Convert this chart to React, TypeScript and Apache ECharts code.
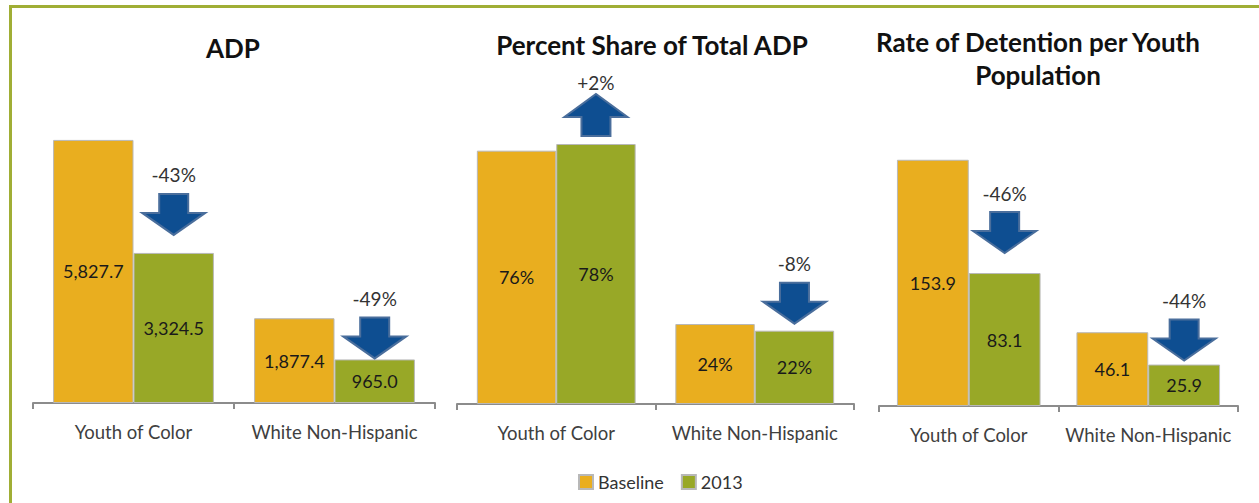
import React, { useEffect, useRef } from "react";
import * as echarts from "echarts";

const categories = ["Youth of Color", "White Non-Hispanic"];
const adpBaseline = [5827.7, 1877.4];
const adp2013 = [3324.5, 965.0];
const shareBaseline = [76, 24];
const share2013 = [78, 22];
const rateBaseline = [153.9, 46.1];
const rate2013 = [83.1, 25.9];
const adpChange = ["-43%", "-49%"];
const shareChange = ["+2%", "-8%"];
const rateChange = ["-46%", "-44%"];
const panelTitles = ["ADP", "Percent Share of Total ADP", "Rate of Detention per Youth\nPopulation"];
const seriesNames = ["Baseline", "2013"];

// layout/style config (px gaps between bar top and arrow)
const arrowGaps = [[18, 1], [8, 7], [20, 4]];

const FONT = "Lato, 'Open Sans', sans-serif";
const GOLD = "#E9AE1F";
const GREEN = "#98A827";
const ARROW_FILL = "#0E4E91";
const ARROW_STROKE = "#4A6E9C";

const fmtAdp = (v: number) =>
  v.toLocaleString("en-US", { minimumFractionDigits: 1, maximumFractionDigits: 1 });
const fmtShare = (v: number) => v + "%";
const fmtRate = (v: number) => v.toFixed(1);

export default function App() {
  const ref = useRef<HTMLDivElement>(null);
  useEffect(() => {
    if (!ref.current) return;
    const chart = echarts.init(ref.current, null, { renderer: "svg" });

    const panels = [
      { base: adpBaseline, cur: adp2013, change: adpChange, fmt: fmtAdp, max: 7000 },
      { base: shareBaseline, cur: share2013, change: shareChange, fmt: fmtShare, max: 90 },
      { base: rateBaseline, cur: rate2013, change: rateChange, fmt: fmtRate, max: 180 },
    ];
    const grids = [
      { left: 33, top: 87, width: 402, height: 316 },
      { left: 457, top: 104, width: 397, height: 300 },
      { left: 879, top: 118, width: 359, height: 288 },
    ];

    const series: any[] = [];
    panels.forEach((p, gi) => {
      [p.base, p.cur].forEach((arr, si) => {
        series.push({
          type: "bar",
          name: seriesNames[si],
          xAxisIndex: gi,
          yAxisIndex: gi,
          data: arr,
          barGap: "0%",
          barCategoryGap: "20%",
          itemStyle: { color: si === 0 ? GOLD : GREEN, borderColor: "#b8b8b8", borderWidth: 1 },
          label: {
            show: true,
            position: "inside",
            formatter: (prm: any) => p.fmt(prm.value),
            color: "#1a1a1a",
            fontSize: 18,
            fontFamily: FONT,
          },
        });
      });
      series.push({
        type: "custom",
        xAxisIndex: gi,
        yAxisIndex: gi,
        clip: false,
        z: 10,
        data: p.cur.map((v, i) => [i, v]),
        renderItem: (params: any, api: any) => {
          const i = params.dataIndex;
          const pt = api.coord([api.value(0), api.value(1)]);
          const band = api.size([1, 0])[0];
          const cx = pt[0] + band * 0.2;
          const label = p.change[i];
          const up = label.startsWith("+");
          const gap = arrowGaps[gi][i];
          let points: number[][];
          let textY: number;
          if (!up) {
            const t = pt[1] - gap;
            points = [
              [cx - 14.5, t - 41], [cx + 14.5, t - 41], [cx + 14.5, t - 22], [cx + 31.5, t - 22],
              [cx, t], [cx - 31.5, t - 22], [cx - 14.5, t - 22],
            ];
            textY = t - 60;
          } else {
            const b = pt[1] - gap;
            points = [
              [cx - 14.5, b], [cx + 14.5, b], [cx + 14.5, b - 19], [cx + 31.5, b - 19],
              [cx, b - 42], [cx - 31.5, b - 19], [cx - 14.5, b - 19],
            ];
            textY = b - 54;
          }
          return {
            type: "group",
            children: [
              {
                type: "polygon",
                shape: { points },
                style: { fill: ARROW_FILL, stroke: ARROW_STROKE, lineWidth: 2 },
              },
              {
                type: "text",
                x: cx,
                y: textY,
                style: {
                  text: label,
                  align: "center",
                  verticalAlign: "middle",
                  textAlign: "center",
                  textVerticalAlign: "middle",
                  fill: "#333",
                  font: `19px ${FONT}`,
                },
              },
            ],
          };
        },
      });
    });

    const titleGraphics = [
      { x: 233, y: 48, text: panelTitles[0] },
      { x: 652, y: 45, text: panelTitles[1] },
      { x: 1038, y: 58, text: panelTitles[2] },
    ].map((t) => ({
      type: "text",
      x: t.x,
      y: t.y,
      style: {
        text: t.text,
        textAlign: "center",
        textVerticalAlign: "middle",
        fill: "#111",
        font: `bold 26px ${FONT}`,
        lineHeight: 33,
      },
    }));

    chart.setOption({
      animation: false,
      backgroundColor: "#fff",
      legend: {
        data: seriesNames,
        left: 573,
        top: 468,
        itemWidth: 14,
        itemHeight: 14,
        itemGap: 17,
        icon: "rect",
        textStyle: { fontSize: 18, fontFamily: FONT, color: "#333" },
      },
      grid: grids.map((g) => ({ ...g, containLabel: false })),
      xAxis: grids.map((_, gi) => ({
        type: "category",
        gridIndex: gi,
        data: categories,
        axisLine: { lineStyle: { color: "#8c8c8c", width: 2 } },
        axisTick: { show: true, length: 6, lineStyle: { color: "#8c8c8c", width: 2 } },
        axisLabel: { interval: 0, margin: 19, fontSize: 18.5, fontFamily: FONT, color: "#404040" },
      })),
      yAxis: panels.map((p, gi) => ({
        type: "value",
        gridIndex: gi,
        min: 0,
        max: p.max,
        show: false,
        splitLine: { show: false },
      })),
      series,
      graphic: [
        ...titleGraphics,
        {
          type: "line",
          shape: { x1: 9, y1: 6.5, x2: 1259, y2: 6.5 },
          style: { stroke: "#A0AE35", lineWidth: 3 },
        },
        {
          type: "line",
          shape: { x1: 10.5, y1: 5, x2: 10.5, y2: 503 },
          style: { stroke: "#A0AE35", lineWidth: 3 },
        },
      ],
    });
    return () => chart.dispose();
  }, []);
  return (
    <div
      ref={ref}
      style={{ position: "fixed", left: 0, top: 0, width: 1259, height: 503 }}
    />
  );
}
